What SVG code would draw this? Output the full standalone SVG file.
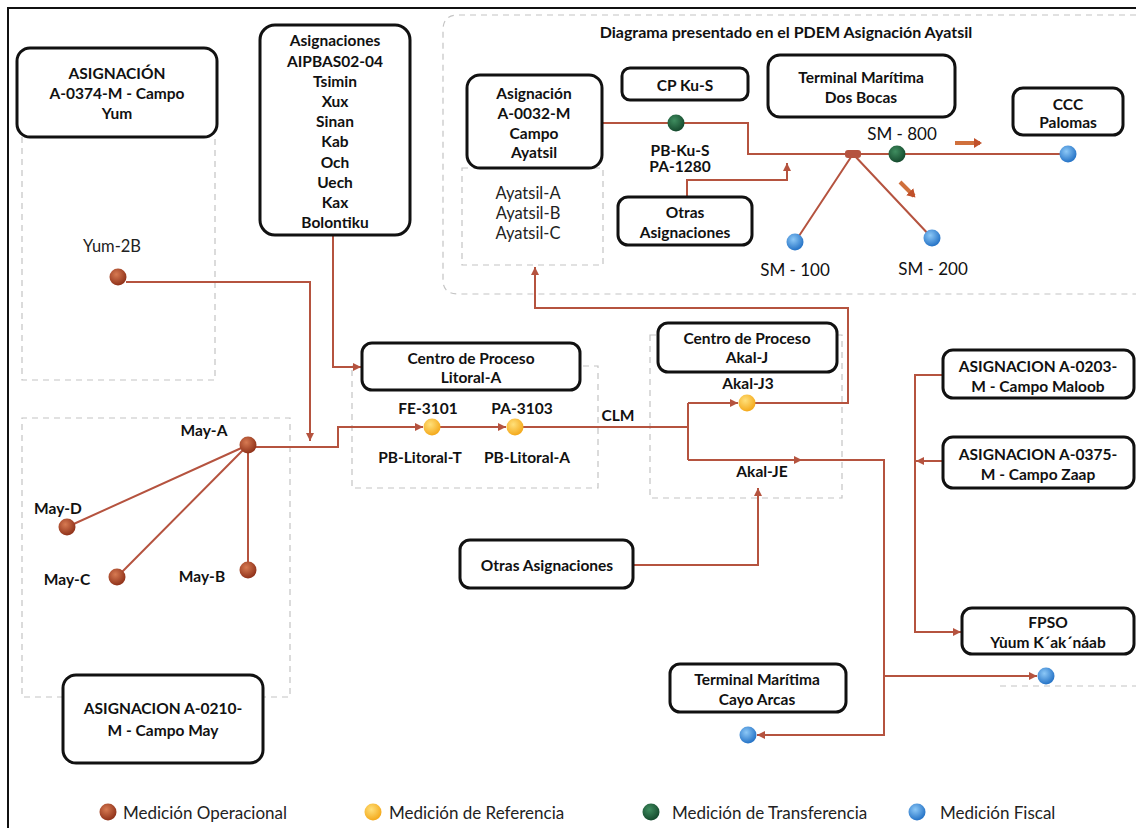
<svg xmlns="http://www.w3.org/2000/svg" width="1136" height="828" viewBox="0 0 1136 828">
<defs>
<style>
.box{fill:#fff;stroke:#111;stroke-width:3}
.reg{fill:none;stroke:#c4c4c4;stroke-width:1.2;stroke-dasharray:6 5}
.ln{fill:none;stroke:#b5533f;stroke-width:2}
.t{font-family:Lato,"Open Sans",sans-serif;font-size:15.5px;font-weight:bold;fill:#111;text-anchor:middle;dominant-baseline:central}
.n{font-family:Lato,"Open Sans",sans-serif;font-size:16.5px;fill:#222;text-anchor:middle;dominant-baseline:central}
.sm{font-family:Lato,"Open Sans",sans-serif;font-size:17px;fill:#111;text-anchor:middle;dominant-baseline:central}
.lg{font-family:Lato,"Open Sans",sans-serif;font-size:17px;fill:#222;dominant-baseline:central}
.oa{fill:none;stroke:#d0703c;stroke-width:4}
</style>
<marker id="ar" markerWidth="8" markerHeight="8" refX="8" refY="4" orient="auto" markerUnits="userSpaceOnUse"><path d="M0,0 L8,4 L0,8 z" fill="#b5533f"/></marker>
<marker id="oar" markerWidth="10" markerHeight="10" refX="6" refY="5" orient="auto" markerUnits="userSpaceOnUse"><path d="M0,0 L8,5 L0,10 z" fill="#c0502a"/></marker>
<radialGradient id="gb" cx="0.4" cy="0.35" r="0.7"><stop offset="0" stop-color="#d77a52"/><stop offset="1" stop-color="#8a2c15"/></radialGradient>
<radialGradient id="gy" cx="0.4" cy="0.35" r="0.7"><stop offset="0" stop-color="#ffe07a"/><stop offset="1" stop-color="#f3a514"/></radialGradient>
<radialGradient id="gg" cx="0.4" cy="0.35" r="0.7"><stop offset="0" stop-color="#3f8d5f"/><stop offset="1" stop-color="#12452a"/></radialGradient>
<radialGradient id="gl" cx="0.4" cy="0.35" r="0.7"><stop offset="0" stop-color="#8cc8f7"/><stop offset="1" stop-color="#1d6cc2"/></radialGradient>
</defs>
<rect width="1136" height="828" fill="#fff"/>
<path d="M8,828 V8 H1136" fill="none" stroke="#111" stroke-width="2"/>

<g id="regions">
<path class="reg" d="M22,137 V380 H215 V137"/>
<path class="reg" d="M63,697 H22 V418 H290 V697 H263"/>
<path class="reg" d="M1136,15 H458 Q443,15 443,30 V280 Q443,294 458,294 H1136"/>
<rect class="reg" x="462" y="168" width="141" height="97"/>
<rect class="reg" x="352" y="366" width="246" height="122"/>
<rect class="reg" x="650" y="335" width="192" height="163"/>
<path class="reg" d="M1000,686 H1136"/>
</g>

<g id="connectors">
<path class="ln" d="M126,282 H310 V441" marker-end="url(#ar)"/>
<path class="ln" d="M333,235 V367 H361" marker-end="url(#ar)"/>
<path class="ln" d="M256,447 H338 V427 H423" marker-end="url(#ar)"/>
<path class="ln" d="M248,445 L67,527 M248,445 L117,577 M248,445 V570"/>
<path class="ln" d="M440,427 H506" marker-end="url(#ar)"/>
<path class="ln" d="M523,427 H688 M688,403 V460"/>
<path class="ln" d="M688,403 H738" marker-end="url(#ar)"/>
<path class="ln" d="M688,460 H802" marker-end="url(#ar)"/>
<path class="ln" d="M800,460 H884 V735 H757" marker-end="url(#ar)"/>
<path class="ln" d="M884,676 H1037" marker-end="url(#ar)"/>
<path class="ln" d="M755,403 H848 V308 H535 V267" marker-end="url(#ar)"/>
<path class="ln" d="M633,565 H758 V488" marker-end="url(#ar)"/>
<path class="ln" d="M943,375 H915 V632 H961" marker-end="url(#ar)"/>
<path class="ln" d="M943,461 H916" marker-end="url(#ar)"/>
<path class="ln" d="M602,123 H748 V154 H853"/>
<path class="ln" d="M687,197 V180 H787 V163" marker-end="url(#ar)"/>
<path class="ln" d="M853,154 H1060"/>
<path class="ln" d="M853,154 L795,242 M853,154 L932,238"/>
<path class="oa" d="M955,143 H980" marker-end="url(#oar)"/>
<path class="oa" d="M900,182 L914,196" marker-end="url(#oar)"/>
<rect x="845" y="150" width="16" height="8" rx="3" fill="#b5533f"/>
</g>

<g id="title"><text class="t" x="786" y="31" style="font-size:16px">Diagrama presentado en el PDEM Asignación Ayatsil</text></g>

<g id="yum-box"><rect class="box" x="17" y="48" width="200" height="89" rx="13"/>
<text class="t" x="117" y="73">ASIGNACIÓN</text><text class="t" x="117" y="93">A-0374-M - Campo</text><text class="t" x="117" y="113">Yum</text></g>

<g id="aipbas-box"><rect class="box" x="260" y="25" width="150" height="210" rx="15"/>
<text class="t" x="335" y="40">Asignaciones</text><text class="t" x="335" y="61">AIPBAS02-04</text><text class="t" x="335" y="81">Tsimin</text><text class="t" x="335" y="101">Xux</text><text class="t" x="335" y="121">Sinan</text><text class="t" x="335" y="141">Kab</text><text class="t" x="335" y="162">Och</text><text class="t" x="335" y="182">Uech</text><text class="t" x="335" y="202">Kax</text><text class="t" x="335" y="222">Bolontiku</text></g>

<g id="ayatsil-box"><rect class="box" x="467" y="75" width="135" height="93" rx="13"/>
<text class="t" x="534" y="93">Asignación</text><text class="t" x="534" y="113">A-0032-M</text><text class="t" x="534" y="133">Campo</text><text class="t" x="534" y="152">Ayatsil</text></g>
<g id="ayatsil-wells"><text class="n" x="528" y="193">Ayatsil-A</text><text class="n" x="528" y="213">Ayatsil-B</text><text class="n" x="528" y="233">Ayatsil-C</text></g>

<g id="kus-box"><rect class="box" x="622" y="68" width="126" height="32" rx="8"/><text class="t" x="685" y="85">CP Ku-S</text></g>
<g id="otras1-box"><rect class="box" x="618" y="197" width="134" height="48" rx="10"/><text class="t" x="685" y="212">Otras</text><text class="t" x="685" y="232">Asignaciones</text></g>
<g id="dosbocas-box"><rect class="box" x="768" y="55" width="187" height="62" rx="12"/><text class="t" x="861" y="77">Terminal Marítima</text><text class="t" x="861" y="97">Dos Bocas</text></g>
<g id="ccc-box"><rect class="box" x="1013" y="88" width="110" height="47" rx="10"/><text class="t" x="1068" y="104">CCC</text><text class="t" x="1068" y="122">Palomas</text></g>
<g id="litoral-box"><rect class="box" x="362" y="343" width="218" height="47" rx="10"/><text class="t" x="471" y="358">Centro de Proceso</text><text class="t" x="471" y="377">Litoral-A</text></g>
<g id="akalj-box"><rect class="box" x="658" y="323" width="179" height="49" rx="10"/><text class="t" x="747" y="338">Centro de Proceso</text><text class="t" x="747" y="357">Akal-J</text></g>
<g id="otras2-box"><rect class="box" x="460" y="540" width="173" height="48" rx="10"/><text class="t" x="547" y="565">Otras Asignaciones</text></g>
<g id="maloob-box"><rect class="box" x="943" y="350" width="191" height="48" rx="10"/><text class="t" x="1038" y="366">ASIGNACION A-0203-</text><text class="t" x="1038" y="386">M - Campo Maloob</text></g>
<g id="zaap-box"><rect class="box" x="943" y="437" width="191" height="51" rx="10"/><text class="t" x="1038" y="454">ASIGNACION A-0375-</text><text class="t" x="1038" y="474">M - Campo Zaap</text></g>
<g id="fpso-box"><rect class="box" x="962" y="608" width="172" height="46" rx="10"/><text class="t" x="1048" y="622">FPSO</text><text class="t" x="1048" y="642">Yùum K´ak´náab</text></g>
<g id="cayo-box"><rect class="box" x="670" y="664" width="176" height="48" rx="10"/><text class="t" x="757" y="679">Terminal Marítima</text><text class="t" x="757" y="699">Cayo Arcas</text></g>
<g id="may-box"><rect class="box" x="63" y="675" width="200" height="88" rx="13"/><text class="t" x="163" y="708">ASIGNACION A-0210-</text><text class="t" x="163" y="730">M - Campo May</text></g>

<g id="points">
<circle cx="118" cy="277" r="8.5" fill="url(#gb)"/>
<circle cx="248" cy="445" r="8.5" fill="url(#gb)"/>
<circle cx="67" cy="527" r="8.5" fill="url(#gb)"/>
<circle cx="117" cy="577" r="8.5" fill="url(#gb)"/>
<circle cx="248" cy="570" r="8.5" fill="url(#gb)"/>
<circle cx="432" cy="427" r="8.5" fill="url(#gy)"/>
<circle cx="515" cy="427" r="8.5" fill="url(#gy)"/>
<circle cx="747" cy="403" r="8.5" fill="url(#gy)"/>
<circle cx="676" cy="123" r="8.5" fill="url(#gg)"/>
<circle cx="897" cy="154" r="8.5" fill="url(#gg)"/>
<circle cx="1068" cy="154" r="8.5" fill="url(#gl)"/>
<circle cx="795" cy="242" r="8.5" fill="url(#gl)"/>
<circle cx="932" cy="238" r="8.5" fill="url(#gl)"/>
<circle cx="1046" cy="676" r="8.5" fill="url(#gl)"/>
<circle cx="748" cy="735" r="8.5" fill="url(#gl)"/>
</g>

<g id="labels">
<text class="n" x="112" y="246">Yum-2B</text>
<text class="t" x="204" y="430">May-A</text>
<text class="t" x="58" y="508">May-D</text>
<text class="t" x="67" y="579">May-C</text>
<text class="t" x="202" y="576">May-B</text>
<text class="t" x="428" y="408">FE-3101</text>
<text class="t" x="522" y="408">PA-3103</text>
<text class="t" x="420" y="457">PB-Litoral-T</text>
<text class="t" x="527" y="457">PB-Litoral-A</text>
<text class="t" x="618" y="415">CLM</text>
<text class="t" x="748" y="383">Akal-J3</text>
<text class="t" x="762" y="471">Akal-JE</text>
<text class="t" x="680" y="150">PB-Ku-S</text>
<text class="t" x="680" y="166">PA-1280</text>
<text class="sm" x="902" y="133">SM - 800</text>
<text class="sm" x="795" y="269">SM - 100</text>
<text class="sm" x="933" y="268">SM - 200</text>
</g>

<g id="legend">
<circle cx="108" cy="812" r="8.5" fill="url(#gb)"/><text class="lg" x="123" y="812">Medición Operacional</text>
<circle cx="373" cy="812" r="8.5" fill="url(#gy)"/><text class="lg" x="389" y="812">Medición de Referencia</text>
<circle cx="651" cy="812" r="8.5" fill="url(#gg)"/><text class="lg" x="672" y="812">Medición de Transferencia</text>
<circle cx="917" cy="812" r="8.5" fill="url(#gl)"/><text class="lg" x="940" y="812">Medición Fiscal</text>
</g>
</svg>
